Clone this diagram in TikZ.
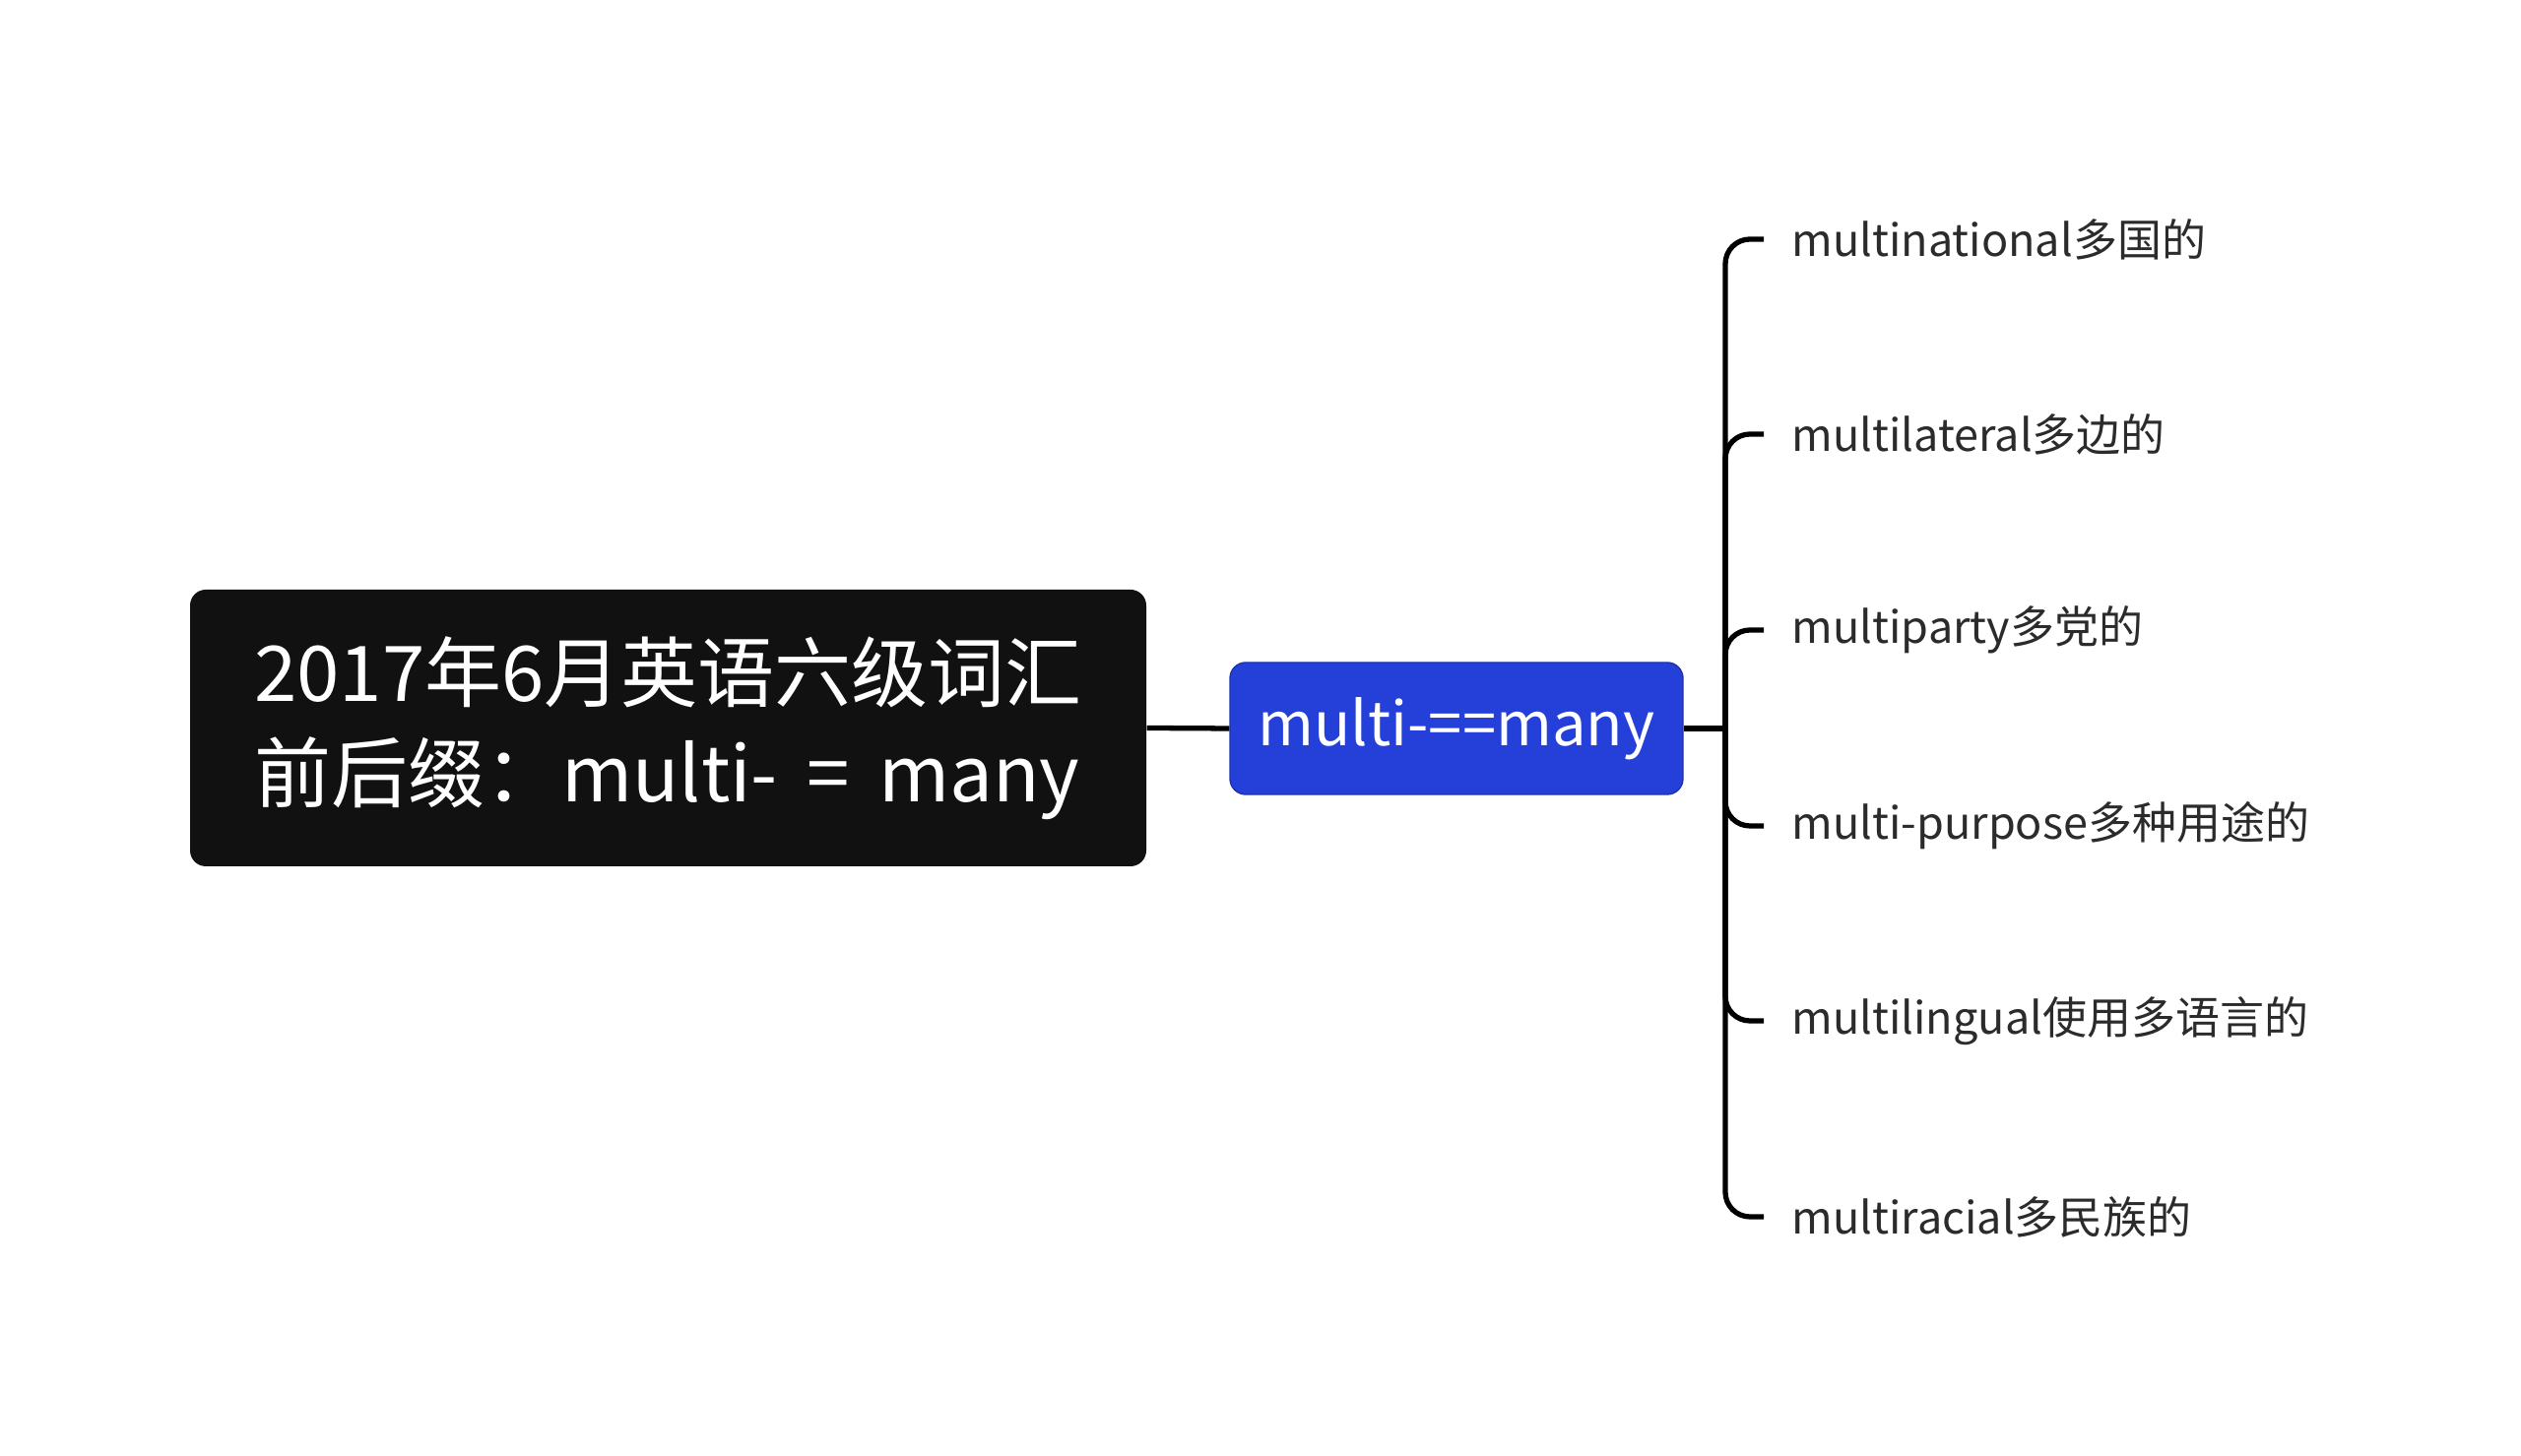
\documentclass[tikz,border=0pt]{standalone}
\usepackage{fontspec}
\setmainfont{Noto Sans CJK SC}
\usepackage{xcolor}
\usetikzlibrary{positioning}
\definecolor{rootblack}{HTML}{111111}
\definecolor{mainblue}{HTML}{2440D9}
\definecolor{leafgray}{HTML}{2B2B2B}

\begin{document}
\begin{tikzpicture}[x=1cm,y=1cm,
  rootbox/.style={fill=rootblack,rounded corners=0.16cm,minimum width=9.71cm,minimum height=2.81cm,
    text=white,align=left,font=\fontsize{22.2}{29}\selectfont},
  mainbox/.style={fill=mainblue,draw=mainblue!80!black,line width=0.4pt,rounded corners=0.16cm,
    minimum width=4.60cm,minimum height=1.34cm,text=white,font=\fontsize{17.5}{21}\selectfont},
  leaf/.style={anchor=west,inner xsep=0.28cm,text=leafgray,font=\fontsize{12.8}{15}\selectfont},
  link/.style={line width=1.5pt,rounded corners=0.25cm}]
  \useasboundingbox (0,0) rectangle (25.6,14.79);
  % root and main topic
  \node[rootbox] (root) at (6.785,7.395) {2017年6月英语六级词汇\\前后缀：multi-\hspace{0.12cm} = \hspace{0.12cm}many};
  \node[mainbox] (multi) at (14.79,7.39) {multi-==many};
  \coordinate (hub) at (17.52,7.39);
  % leaves
  \node[leaf] (w1) at (17.91,12.36) {multinational多国的};
  \node[leaf] (w2) at (17.91,10.38) {multilateral多边的};
  \node[leaf] (w3) at (17.91,8.39) {multiparty多党的};
  \node[leaf] (w4) at (17.91,6.40) {multi-purpose多种用途的};
  \node[leaf] (w5) at (17.91,4.42) {multilingual使用多语言的};
  \node[leaf] (w6) at (17.91,2.43) {multiracial多民族的};
  \draw[link] (root.east) -- (multi.west);
  \draw[link] (multi.east) -- (hub);
  \foreach \w in {w1,w2,w3,w4,w5,w6}
    \draw[link] (hub) |- (\w.west);
\end{tikzpicture}
\end{document}
